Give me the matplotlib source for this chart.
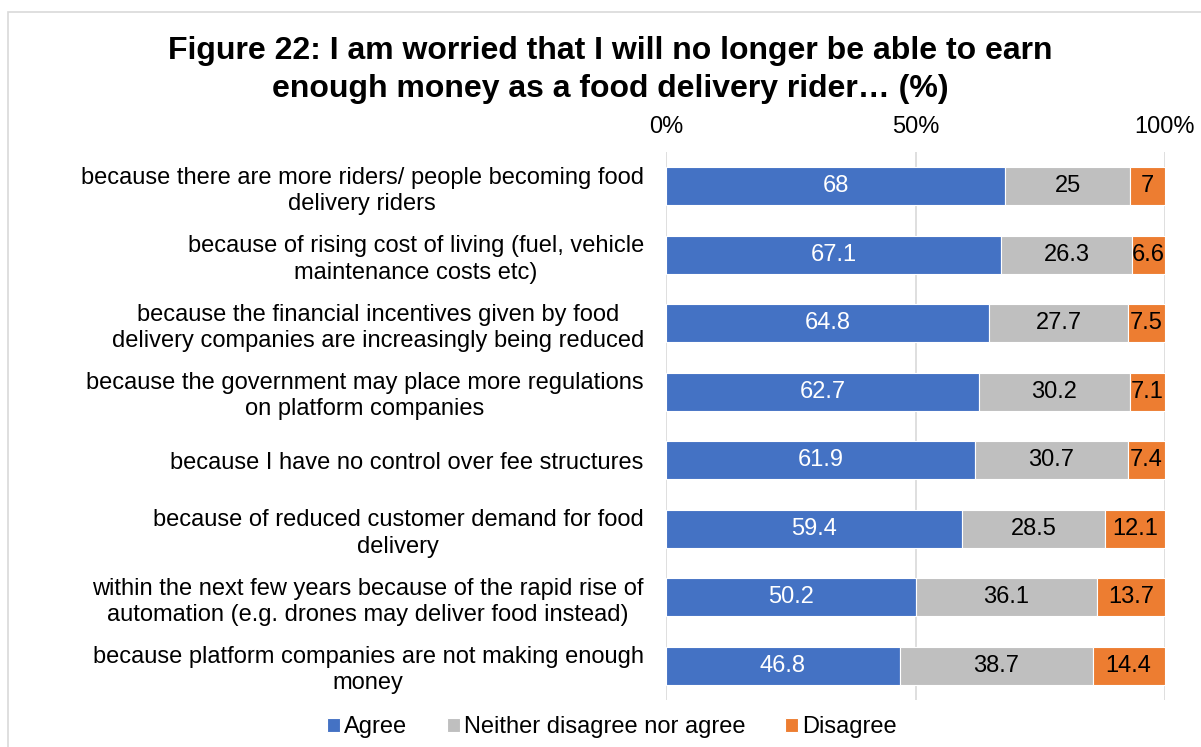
"""Stacked bar chart: worries about earnings as a food delivery rider."""

import matplotlib
matplotlib.use('Agg')
import matplotlib.pyplot as plt
import matplotlib.ticker as ticker
from matplotlib.patches import Rectangle

plt.rcParams['font.family'] = ['Liberation Sans', 'DejaVu Sans']

reasons = [
    'because there are more riders/ people becoming food\ndelivery riders',
    'because of rising cost of living (fuel, vehicle\nmaintenance costs etc)',
    'because the financial incentives given by food\ndelivery companies are increasingly being reduced',
    'because the government may place more regulations\non platform companies',
    'because I have no control over fee structures',
    'because of reduced customer demand for food\ndelivery',
    'within the next few years because of the rapid rise of\nautomation (e.g. drones may deliver food instead)',
    'because platform companies are not making enough\nmoney',
]
agree = [68, 67.1, 64.8, 62.7, 61.9, 59.4, 50.2, 46.8]
neither = [25, 26.3, 27.7, 30.2, 30.7, 28.5, 36.1, 38.7]
disagree = [7, 6.6, 7.5, 7.1, 7.4, 12.1, 13.7, 14.4]

series = [
    ('Agree', agree, '#4472C4', 'white'),
    ('Neither disagree nor agree', neither, '#BFBFBF', 'black'),
    ('Disagree', disagree, '#ED7D31', 'black'),
]

FS = 17

fig = plt.figure(figsize=(12.01, 7.47), dpi=100)
ax = fig.add_axes([666 / 1201, 1 - 700 / 747, 499 / 1201, 548 / 747])

# light frame around the chart area
fig.patches.append(Rectangle((7.5 / 1201, -0.05), 1.1, 1 - 11.5 / 747 + 0.05,
                             transform=fig.transFigure, fill=False,
                             edgecolor='#D9D9D9', linewidth=1.2))

y = list(range(len(reasons)))
left = [0] * len(reasons)
for name, vals, color, txt in series:
    bars = ax.barh(y, vals, left=left, height=0.55, color=color,
                   edgecolor='white', linewidth=0.8, label=name, zorder=2)
    labels = [f'{v:g}' for v in vals]
    ax.bar_label(bars, labels=labels, label_type='center', color=txt,
                 fontsize=FS)
    left = [a + b for a, b in zip(left, vals)]

ax.set_ylim(len(reasons) - 0.5, -0.5)
ax.set_xlim(0, 100)
ax.set_yticks(y)
ax.set_yticklabels(reasons, fontsize=FS, multialignment='center',
                   linespacing=1.25)
ax.tick_params(axis='y', length=0, pad=16)

ax.xaxis.tick_top()
ax.set_xticks([0, 50, 100])
ax.xaxis.set_major_formatter(ticker.FuncFormatter(lambda x, p: f'{x:.0f}%'))
ax.tick_params(axis='x', length=0, labelsize=FS, pad=10)
ax.grid(axis='x', color='#D9D9D9', linewidth=1.2, zorder=0)
for s in ax.spines.values():
    s.set_visible(False)

fig.text(610 / 1201, 1 - 70 / 747,
         'Figure 22: I am worried that I will no longer be able to earn\n'
         'enough money as a food delivery rider… (%)',
         ha='center', va='center', fontsize=23, fontweight='bold',
         linespacing=1.33)

fig.legend(loc='center', bbox_to_anchor=(612 / 1201, 1 - 727 / 747), ncol=3,
           frameon=False, fontsize=FS, handlelength=0.55, handleheight=0.55,
           handletextpad=0.15, columnspacing=1.7)

plt.savefig('out.png', dpi=100)
